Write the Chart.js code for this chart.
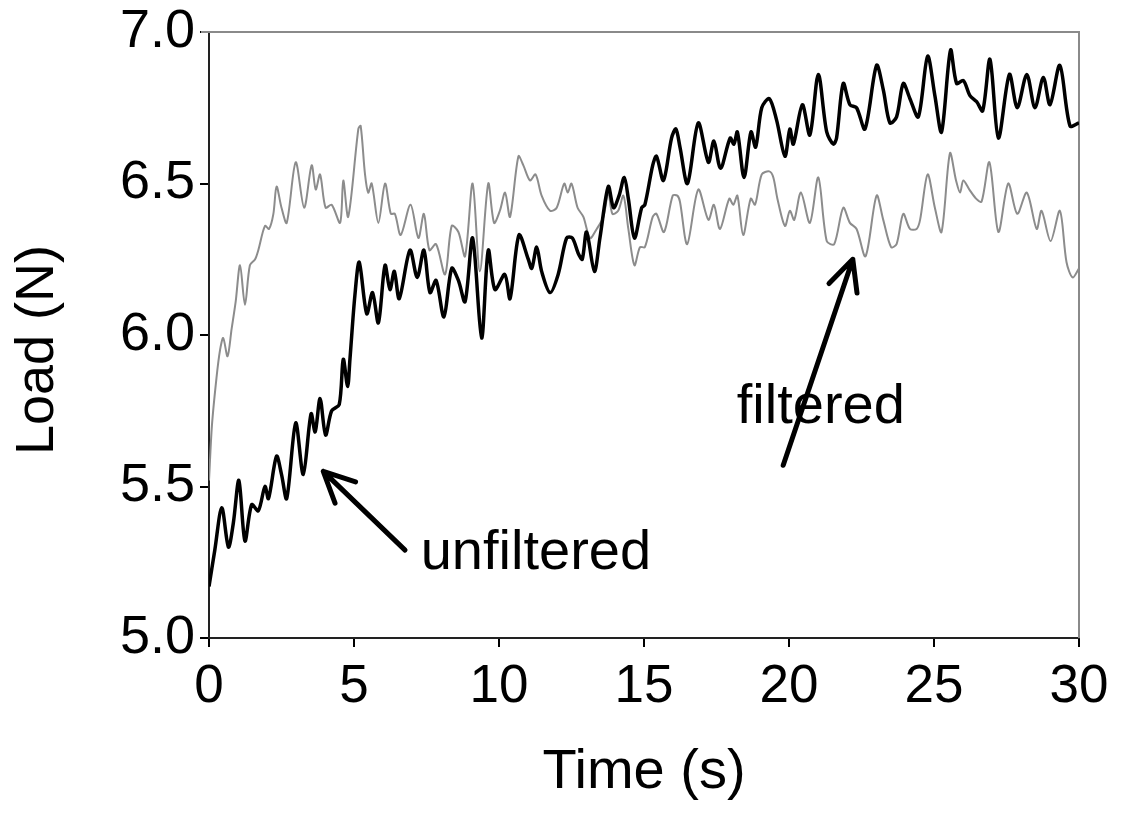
<!DOCTYPE html>
<html>
<head>
<meta charset="utf-8">
<script src="https://cdn.jsdelivr.net/npm/chart.js@4/dist/chart.umd.min.js"></script>
<style>
  html, body { margin: 0; padding: 0; background: #fff; }
  #wrap { width: 1122px; height: 827px; }
</style>
</head>
<body>
<div id="wrap"><canvas id="chart"></canvas></div>
<script>
// time (s) and load (N)
const unfilteredTime = [
    0, 0.2, 0.44, 0.67, 0.84, 1.03, 1.24, 1.47, 1.7, 1.93,
    2.05, 2.33, 2.5, 2.68, 2.99, 3.25, 3.52, 3.66, 3.83, 4.02,
    4.23, 4.49, 4.63, 4.78, 4.86, 5.03, 5.18, 5.44, 5.64, 5.84,
    6.07, 6.24, 6.39, 6.56, 6.93, 7.18, 7.41, 7.62, 7.83, 8.1,
    8.37, 8.6, 8.83, 9.09, 9.4, 9.63, 9.86, 10.2, 10.38, 10.69,
    11.01, 11.13, 11.3, 11.47, 11.76, 12.04, 12.33, 12.53, 12.73, 12.87,
    13.02, 13.29, 13.48, 13.77, 13.95, 14.14, 14.32, 14.46, 14.67, 14.92,
    15.03, 15.3, 15.43, 15.67, 15.95, 16.1, 16.24, 16.5, 16.87, 17.22,
    17.41, 17.64, 17.97, 18.1, 18.22, 18.45, 18.69, 18.85, 19.06, 19.32,
    19.57, 19.86, 20.03, 20.15, 20.46, 20.72, 21.01, 21.3, 21.53, 21.64,
    21.87, 22.1, 22.33, 22.62, 23.02, 23.25, 23.48, 23.71, 23.94, 24.17,
    24.46, 24.78, 25.03, 25.26, 25.57, 25.78, 26.01, 26.24, 26.47, 26.68,
    26.93, 27.22, 27.6, 27.87, 28.2, 28.48, 28.77, 29.0, 29.34, 29.69,
    30.0
];
const unfilteredLoad = [
    5.17, 5.29, 5.43, 5.30, 5.38, 5.52, 5.32, 5.44, 5.42, 5.50,
    5.46, 5.60, 5.54, 5.46, 5.71, 5.54, 5.74, 5.68, 5.79, 5.67,
    5.75, 5.77, 5.92, 5.83, 5.92, 6.13, 6.24, 6.07, 6.14, 6.04,
    6.23, 6.15, 6.21, 6.12, 6.28, 6.19, 6.28, 6.14, 6.18, 6.06,
    6.22, 6.18, 6.11, 6.32, 5.99, 6.28, 6.15, 6.20, 6.12, 6.33,
    6.25, 6.22, 6.29, 6.21, 6.14, 6.20, 6.32, 6.32, 6.27, 6.25,
    6.34, 6.21, 6.32, 6.49, 6.42, 6.46, 6.52, 6.45, 6.32, 6.42,
    6.43, 6.56, 6.59, 6.51, 6.65, 6.68, 6.62, 6.50, 6.70, 6.57,
    6.64, 6.55, 6.65, 6.63, 6.67, 6.52, 6.67, 6.62, 6.75, 6.78,
    6.71, 6.59, 6.68, 6.63, 6.76, 6.66, 6.86, 6.67, 6.63, 6.65,
    6.83, 6.76, 6.75, 6.68, 6.89, 6.81, 6.70, 6.72, 6.83, 6.78,
    6.72, 6.92, 6.79, 6.67, 6.94, 6.83, 6.84, 6.79, 6.77, 6.74,
    6.91, 6.65, 6.86, 6.75, 6.86, 6.75, 6.85, 6.76, 6.89, 6.69,
    6.70
];
const filteredTime = [
    0, 0.1, 0.26, 0.38, 0.49, 0.64, 0.78, 0.92, 1.07, 1.24,
    1.41, 1.59, 1.7, 1.93, 2.07, 2.22, 2.33, 2.5, 2.68, 2.99,
    3.28, 3.54, 3.68, 3.83, 4.02, 4.23, 4.52, 4.63, 4.8, 5.15,
    5.23, 5.38, 5.49, 5.61, 5.84, 6.07, 6.27, 6.41, 6.61, 6.95,
    7.22, 7.41, 7.6, 7.83, 8.14, 8.37, 8.6, 8.83, 9.09, 9.34,
    9.63, 9.83, 10.03, 10.21, 10.38, 10.67, 10.84, 11.07, 11.26, 11.47,
    11.76, 11.99, 12.25, 12.37, 12.5, 12.71, 12.91, 13.14, 13.37, 13.6,
    13.77, 13.91, 14.11, 14.29, 14.46, 14.67, 14.86, 15.03, 15.3, 15.43,
    15.69, 15.99, 16.15, 16.24, 16.49, 16.87, 17.22, 17.41, 17.62, 17.94,
    18.08, 18.22, 18.42, 18.68, 18.83, 19.06, 19.32, 19.46, 19.6, 19.86,
    20.03, 20.18, 20.41, 20.72, 21.01, 21.3, 21.56, 21.87, 22.1, 22.33,
    22.64, 23.02, 23.25, 23.52, 23.71, 23.94, 24.17, 24.4, 24.52, 24.78,
    25.03, 25.26, 25.55, 25.76, 25.9, 26.01, 26.22, 26.45, 26.64, 26.91,
    27.22, 27.56, 27.87, 28.2, 28.54, 28.71, 29.02, 29.34, 29.57, 29.78,
    30.0
];
const filteredLoad = [
    5.52, 5.70, 5.86, 5.95, 5.99, 5.93, 6.02, 6.11, 6.23, 6.10,
    6.23, 6.25, 6.28, 6.36, 6.35, 6.40, 6.49, 6.42, 6.37, 6.57,
    6.42, 6.56, 6.48, 6.53, 6.42, 6.43, 6.37, 6.51, 6.39, 6.68,
    6.69, 6.53, 6.47, 6.50, 6.37, 6.50, 6.40, 6.40, 6.33, 6.43,
    6.32, 6.40, 6.28, 6.30, 6.20, 6.36, 6.34, 6.26, 6.50, 6.21,
    6.50, 6.37, 6.41, 6.47, 6.39, 6.59, 6.56, 6.51, 6.53, 6.46,
    6.41, 6.42, 6.50, 6.47, 6.50, 6.42, 6.39, 6.32, 6.35, 6.39,
    6.47, 6.40, 6.41, 6.46, 6.35, 6.23, 6.29, 6.29, 6.39, 6.40,
    6.34, 6.46, 6.46, 6.44, 6.30, 6.48, 6.38, 6.43, 6.35, 6.45,
    6.43, 6.46, 6.33, 6.45, 6.43, 6.53, 6.54, 6.52, 6.45, 6.36,
    6.41, 6.38, 6.47, 6.37, 6.52, 6.31, 6.30, 6.42, 6.37, 6.35,
    6.26, 6.46, 6.38, 6.29, 6.30, 6.40, 6.35, 6.35, 6.38, 6.53,
    6.42, 6.34, 6.60, 6.51, 6.47, 6.51, 6.48, 6.45, 6.44, 6.57,
    6.34, 6.50, 6.40, 6.47, 6.35, 6.41, 6.31, 6.41, 6.24, 6.19,
    6.22
];
const xTicks = [0, 5, 10, 15, 20, 25, 30];
const yTicks = [5.0, 5.5, 6.0, 6.5, 7.0];

// text labels with arrows, in data units (t, load)
const notes = [
    { text: "unfiltered", at: [7.3, 5.28], from: [6.76, 5.29], to: [3.94, 5.55] },
    { text: "filtered", at: [18.2, 5.76], from: [19.8, 5.57], to: [22.2, 6.25] },
];

const FONT = '"Liberation Sans", Arial, sans-serif';

const toXY = (ts, vs) => ts.map((t, i) => ({ x: t, y: vs[i] }));

const frame = {
    id: "frame",
    beforeDatasetsDraw(chart) {
        const { ctx, chartArea: a } = chart;
        ctx.save();
        ctx.strokeStyle = "#8a8a8a";
        ctx.lineWidth = 2;
        ctx.beginPath();
        ctx.moveTo(a.left - 8, a.top);
        ctx.lineTo(a.right, a.top);
        ctx.lineTo(a.right, a.bottom);
        ctx.stroke();
        ctx.restore();
    },
};

const arrows = {
    id: "arrows",
    afterDatasetsDraw(chart) {
        const { ctx } = chart;
        const sx = chart.scales.x, sy = chart.scales.y;
        const px = (p) => [sx.getPixelForValue(p[0]), sy.getPixelForValue(p[1])];
        ctx.save();
        ctx.strokeStyle = "#000";
        ctx.fillStyle = "#000";
        ctx.lineWidth = 5;
        ctx.lineCap = "round";
        ctx.lineJoin = "round";
        notes.forEach((n) => {
            const [x0, y0] = px(n.from);
            const [x1, y1] = px(n.to);
            const ang = Math.atan2(y1 - y0, x1 - x0);
            const len = 34;
            ctx.beginPath();
            ctx.moveTo(x0, y0);
            ctx.lineTo(x1, y1);
            ctx.moveTo(x1 - len * Math.cos(ang - 0.45), y1 - len * Math.sin(ang - 0.45));
            ctx.lineTo(x1, y1);
            ctx.lineTo(x1 - len * Math.cos(ang + 0.45), y1 - len * Math.sin(ang + 0.45));
            ctx.stroke();
            const [tx, ty] = px(n.at);
            ctx.font = "56px " + FONT;
            ctx.textBaseline = "middle";
            ctx.textAlign = "left";
            ctx.fillText(n.text, tx, ty);
        });
        ctx.restore();
    },
};

new Chart(document.getElementById("chart"), {
    type: "line",
    data: {
        datasets: [
            {
                label: "unfiltered",
                data: toXY(unfilteredTime, unfilteredLoad),
                borderColor: "#000",
                borderWidth: 3.5,
                pointRadius: 0,
                tension: 0.3,
            },
            {
                label: "filtered",
                data: toXY(filteredTime, filteredLoad),
                borderColor: "#8c8c8c",
                borderWidth: 2,
                pointRadius: 0,
                tension: 0.3,
            },
        ],
    },
    options: {
        responsive: true,
        maintainAspectRatio: false,
        animation: false,
        layout: { padding: { left: 0, top: 32, right: 43, bottom: 0 } },
        plugins: {
            legend: { display: false },
            tooltip: { enabled: false },
        },
        scales: {
            x: {
                type: "linear",
                min: 0,
                max: 30,
                afterBuildTicks: (s) => { s.ticks = xTicks.map((v) => ({ value: v })); },
                afterFit: (s) => { s.height = 189; },
                ticks: {
                    color: "#000",
                    font: { family: FONT, size: 53 },
                    padding: 9,
                    maxRotation: 0,
                    callback: (v) => String(v),
                },
                grid: { drawOnChartArea: false, tickLength: 9, color: "#000", lineWidth: 2 },
                border: { color: "#222", width: 2 },
                title: {
                    display: true,
                    text: "Time (s)",
                    color: "#000",
                    font: { family: FONT, size: 56 },
                    padding: { top: 0, bottom: 21 },
                },
            },
            y: {
                min: 5,
                max: 7,
                afterBuildTicks: (s) => { s.ticks = yTicks.map((v) => ({ value: v })); },
                afterFit: (s) => { s.width = 209; },
                ticks: {
                    color: "#000",
                    font: { family: FONT, size: 54, lineHeight: 1.0 },
                    padding: 5,
                    callback: (v) => Number(v).toFixed(1),
                },
                grid: { drawOnChartArea: false, tickLength: 9, color: "#000", lineWidth: 2 },
                border: { color: "#222", width: 2 },
                title: {
                    display: true,
                    text: "Load (N)  ",
                    color: "#000",
                    font: { family: FONT, size: 54 },
                    padding: { top: 6, bottom: 0 },
                },
            },
        },
    },
    plugins: [frame, arrows],
});
</script>
</body>
</html>
